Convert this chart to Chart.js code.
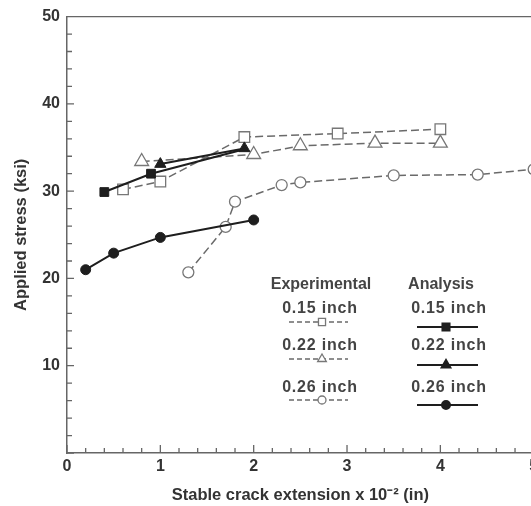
<!DOCTYPE html>
<html>
<head>
<meta charset="utf-8">
<script src="https://cdn.jsdelivr.net/npm/chart.js@4.4.1/dist/chart.umd.min.js"></script>
<style>
  html, body { margin: 0; padding: 0; background: #fff; overflow: hidden; }
  #wrap { position: absolute; left: 0; top: 0; width: 543px; height: 506px; }
</style>
</head>
<body>
<div id="wrap"><canvas id="chart"></canvas></div>
<script>
// stable crack extension (x 10^-2 in) and applied stress (ksi)
const exp15X = [0.6, 1.0, 1.9, 2.9, 4.0];
const exp15Y = [30.2, 31.1, 36.2, 36.6, 37.1];
const exp22X = [0.8, 2.0, 2.5, 3.3, 4.0];
const exp22Y = [33.4, 34.2, 35.2, 35.5, 35.5];
const exp26X = [1.3, 1.7, 1.8, 2.3, 2.5, 3.5, 4.4, 5.0];
const exp26Y = [20.7, 25.9, 28.8, 30.7, 31.0, 31.8, 31.9, 32.5];
const ana15X = [0.4, 0.9, 1.9];
const ana15Y = [29.9, 32.0, 34.8];
const ana22X = [1.0, 1.9];
const ana22Y = [33.1, 34.9];
const ana26X = [0.2, 0.5, 1.0, 2.0];
const ana26Y = [21.0, 22.9, 24.7, 26.7];

const sizeLabels = ['0.15 inch', '0.22 inch', '0.26 inch'];
const xTitle = 'Stable crack extension x 10\u207B\u00B2 (in)';
const yTitle = 'Applied stress (ksi)';

const axisColor = '#666';
const dashColor = '#6a6a6a';
const solidColor = '#1e1e1e';
const fontFamily = '"Liberation Sans", Arial, sans-serif';

function pts(xs, ys) {
    return xs.map((x, i) => ({ x: x, y: ys[i] }));
}

function expSet(xs, ys, style, r) {
    return {
        data: pts(xs, ys),
        showLine: true,
        borderColor: dashColor,
        borderWidth: 1.5,
        borderDash: [8, 4],
        pointStyle: style,
        pointRadius: r,
        pointBorderWidth: 1.3,
        pointBorderColor: '#777',
        pointBackgroundColor: '#fff',
        order: 2
    };
}

function anaSet(xs, ys, style, r) {
    return {
        data: pts(xs, ys),
        showLine: true,
        borderColor: solidColor,
        borderWidth: 2,
        pointStyle: style,
        pointRadius: r,
        pointBorderWidth: 1,
        pointBorderColor: solidColor,
        pointBackgroundColor: solidColor,
        order: 1
    };
}

// inward ticks, top border and the two-column key
const decor = {
    id: 'decor',
    afterDraw(chart) {
        const ctx = chart.ctx;
        const a = chart.chartArea;
        const xs = chart.scales.x, ys = chart.scales.y;
        ctx.save();
        ctx.strokeStyle = axisColor;
        ctx.lineWidth = 1.3;
        ctx.beginPath();
        ctx.moveTo(a.left, a.top);
        ctx.lineTo(a.right + 10, a.top);
        xs.ticks.forEach(t => {
            const px = xs.getPixelForValue(t.value);
            const major = Math.abs(t.value - Math.round(t.value)) < 1e-6;
            ctx.moveTo(px, a.bottom);
            ctx.lineTo(px, a.bottom - (major ? 8 : 5));
        });
        ys.ticks.forEach(t => {
            const py = ys.getPixelForValue(t.value);
            const major = Math.abs(t.value / 10 - Math.round(t.value / 10)) < 1e-6;
            ctx.moveTo(a.left, py);
            ctx.lineTo(a.left + (major ? 7 : 5), py);
        });
        ctx.stroke();

        // key
        ctx.fillStyle = '#444';
        ctx.textAlign = 'center';
        ctx.textBaseline = 'middle';
        ctx.font = 'bold 16px ' + fontFamily;
        ctx.fillText('Experimental', 321, 285);
        ctx.fillText('Analysis', 441, 285);
        const rowsText = [309, 346, 388];
        const rowsExp = [322, 359, 400];
        const rowsAna = [327, 365, 405];
        const styles = ['rect', 'triangle', 'circle'];
        const radii = [5, 5, 4];
        sizeLabels.forEach((lab, i) => {
            ctx.fillStyle = '#444';
            ctx.letterSpacing = '0.8px';
            ctx.fillText(lab, 320, rowsText[i]);
            ctx.fillText(lab, 449, rowsText[i]);
            ctx.letterSpacing = '0px';

            ctx.strokeStyle = dashColor;
            ctx.lineWidth = 1.3;
            ctx.setLineDash([5, 3]);
            ctx.beginPath();
            ctx.moveTo(289, rowsExp[i]);
            ctx.lineTo(348, rowsExp[i]);
            ctx.stroke();
            ctx.setLineDash([]);
            ctx.fillStyle = '#fff';
            ctx.strokeStyle = '#777';
            Chart.helpers.drawPoint(ctx, { pointStyle: styles[i], radius: radii[i], borderWidth: 1.2 }, 322, rowsExp[i]);

            ctx.strokeStyle = solidColor;
            ctx.lineWidth = 2;
            ctx.beginPath();
            ctx.moveTo(417, rowsAna[i]);
            ctx.lineTo(478, rowsAna[i]);
            ctx.stroke();
            ctx.fillStyle = solidColor;
            Chart.helpers.drawPoint(ctx, { pointStyle: styles[i], radius: radii[i], borderWidth: 1 }, 446, rowsAna[i]);
        });
        ctx.restore();
    }
};

new Chart(document.getElementById('chart'), {
    type: 'scatter',
    data: {
        datasets: [
            expSet(exp15X, exp15Y, 'rect', 7.5),
            expSet(exp22X, exp22Y, 'triangle', 8),
            expSet(exp26X, exp26Y, 'circle', 5.5),
            Object.assign(anaSet(ana15X, ana15Y, 'rect', 6.2), {
                pointRadius: ctx => (ctx.dataIndex === ana15X.length - 1 ? 0 : 6.2)
            }),
            anaSet(ana22X, ana22Y, 'triangle', 6.5),
            anaSet(ana26X, ana26Y, 'circle', 5)
        ]
    },
    options: {
        responsive: true,
        maintainAspectRatio: false,
        animation: false,
        layout: { padding: { top: 14, left: 0, right: 0, bottom: 0 } },
        plugins: {
            legend: { display: false },
            tooltip: { enabled: false }
        },
        scales: {
            x: {
                type: 'linear',
                min: 0,
                max: 5,
                afterFit: s => { s.height = 53; },
                grid: { display: false, drawTicks: false },
                border: { color: axisColor, width: 1.5 },
                ticks: {
                    stepSize: 0.2,
                    autoSkip: false,
                    maxRotation: 0,
                    padding: 4,
                    color: '#333',
                    font: { family: fontFamily, size: 16, weight: 'bold' },
                    callback: v => (Math.abs(v - Math.round(v)) < 1e-6 ? String(Math.round(v)) : '')
                },
                title: {
                    display: true,
                    text: xTitle,
                    color: '#333',
                    padding: { top: 0, bottom: 1 },
                    font: { family: fontFamily, size: 16.5, weight: 'bold' }
                }
            },
            y: {
                min: 0,
                max: 50,
                afterFit: s => { s.width = 67; },
                grid: { display: false, drawTicks: false },
                border: { color: axisColor, width: 1.5 },
                ticks: {
                    stepSize: 2,
                    autoSkip: false,
                    padding: 7,
                    color: '#333',
                    font: { family: fontFamily, size: 16, weight: 'bold' },
                    callback: v => (v > 0 && v % 10 === 0 ? String(v) : '')
                },
                title: {
                    display: true,
                    text: yTitle,
                    color: '#333',
                    padding: { top: 12, bottom: 0 },
                    font: { family: fontFamily, size: 16.5, weight: 'bold' }
                }
            }
        }
    },
    plugins: [decor]
});
</script>
</body>
</html>
